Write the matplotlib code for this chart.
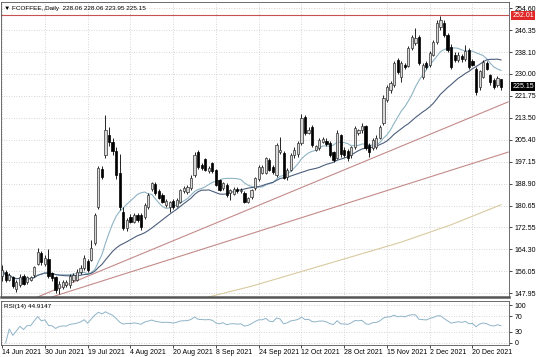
import numpy as np
import pandas as pd
import matplotlib
matplotlib.use('Agg')
import matplotlib.pyplot as plt
import matplotlib.transforms as mtrans

plt.rcParams['font.family'] = ['Liberation Sans', 'DejaVu Sans']

# daily candles, bar 0 = 14 Jun 2021
opens = [154.5, 155.8, 153.0, 154.0, 149.5, 151.0, 154.5, 152.0, 153.0, 154.6,
         159.0, 162.8, 158.8, 160.5, 155.4, 154.0, 150.0, 150.2, 151.0, 150.8,
         152.8, 153.0, 155.8, 157.2, 159.8, 160.3, 166.8, 180.0, 194.5, 199.6,
         207.0, 204.5, 201.0, 193.0, 178.3, 172.3, 176.5, 174.5, 177.2, 177.2,
         176.5, 180.0, 187.0, 188.7, 186.0, 184.5, 181.0, 180.3, 182.3, 180.5,
         182.0, 186.0, 185.8, 187.2, 192.0, 200.7, 195.8, 198.0, 193.5, 196.5,
         194.0, 190.2, 187.2, 188.4, 185.5, 185.0, 187.0, 186.0, 185.4, 182.2,
         184.0, 187.2, 190.5, 192.8, 193.0, 197.7, 195.0, 192.0, 200.6, 200.3,
         191.4, 194.0, 199.5, 200.0, 204.0, 213.8, 208.0, 210.0, 201.5, 202.2,
         204.5, 205.0, 204.2, 200.7, 198.5, 207.0, 201.5, 201.0, 199.5, 202.6,
         208.0, 208.9, 210.5, 203.3, 202.2, 202.6, 206.0, 211.5, 220.2, 224.0,
         225.8, 235.1, 229.0, 233.3, 233.0, 239.6, 241.5, 243.7, 228.8, 234.0,
         233.3, 237.0, 241.9, 247.5, 249.0, 244.5, 240.0, 237.0, 235.1, 236.5,
         235.5, 238.9, 235.0, 232.0, 225.0, 229.0, 234.2, 229.5, 227.7, 225.8,
         228.06]
highs = [158.5, 156.5, 155.5, 154.5, 152.8, 155.0, 155.2, 154.5, 154.5, 158.0,
         164.8, 163.5, 162.0, 164.5, 156.0, 154.5, 152.5, 153.0, 153.0, 155.0,
         155.5, 156.8, 158.5, 162.0, 160.5, 167.8, 178.0, 195.5, 195.5, 214.5,
         210.0, 206.0, 202.5, 200.0, 180.0, 176.0, 177.5, 178.0, 178.0, 178.0,
         181.5, 185.5, 189.5, 189.5, 187.0, 185.5, 183.0, 182.5, 183.0, 183.5,
         187.0, 188.0, 188.5, 192.0, 200.7, 201.5, 196.5, 198.5, 195.5, 197.0,
         194.5, 190.8, 189.5, 189.0, 187.0, 187.5, 187.8, 187.3, 186.0, 184.0,
         187.0, 191.5, 195.8, 196.0, 199.0, 198.5, 195.8, 204.0, 206.5, 201.0,
         194.8, 200.3, 202.5, 204.8, 214.8, 214.5, 210.0, 211.0, 203.5, 206.0,
         206.5, 206.0, 204.8, 201.2, 209.0, 207.5, 202.5, 201.8, 203.0, 210.5,
         209.5, 211.5, 211.0, 204.0, 206.0, 207.0, 211.0, 222.0, 226.0, 227.5,
         234.8, 236.0, 234.8, 234.2, 240.4, 244.5, 247.2, 244.5, 234.0, 235.0,
         238.5, 242.6, 250.0, 251.8, 250.0, 245.2, 241.0, 238.0, 238.0, 237.5,
         240.8, 239.5, 235.5, 232.5, 231.5, 235.2, 234.8, 230.0, 228.3, 229.3,
         228.06]
lows = [152.5, 152.0, 152.5, 149.8, 148.2, 150.2, 150.8, 151.5, 152.5, 154.0,
        158.5, 158.5, 158.0, 153.5, 152.5, 148.0, 147.6, 149.5, 150.2, 150.0,
        152.0, 152.5, 155.0, 156.5, 155.8, 159.8, 166.0, 179.5, 190.5, 198.5,
        203.0, 199.5, 190.5, 179.0, 171.5, 171.0, 174.0, 174.0, 174.5, 171.5,
        175.5, 179.5, 186.0, 184.5, 183.0, 181.5, 180.0, 178.3, 179.5, 180.0,
        181.5, 185.5, 185.0, 186.5, 191.5, 194.5, 194.0, 193.5, 193.0, 193.0,
        188.0, 186.0, 186.5, 184.0, 182.7, 184.5, 185.5, 185.5, 181.5, 181.7,
        183.0, 186.5, 190.0, 192.5, 192.5, 193.5, 192.5, 191.5, 200.0, 190.5,
        190.2, 193.5, 198.5, 199.0, 203.5, 207.0, 207.5, 202.8, 201.0, 201.5,
        204.0, 203.0, 199.0, 197.0, 198.0, 199.0, 199.0, 197.5, 198.5, 202.0,
        207.0, 208.0, 201.5, 198.9, 201.5, 202.0, 205.5, 211.0, 219.5, 223.0,
        225.0, 230.0, 227.0, 231.8, 232.5, 239.0, 240.8, 233.5, 228.0, 231.8,
        232.5, 236.5, 241.2, 246.5, 243.8, 238.2, 232.0, 234.5, 234.5, 234.5,
        235.0, 232.0, 232.8, 222.2, 224.0, 228.5, 231.5, 226.0, 224.3, 225.2,
        223.95]
closes = [156.5, 152.8, 154.8, 150.5, 152.0, 154.0, 151.5, 153.8, 153.8, 157.6,
          163.3, 159.5, 161.0, 154.2, 153.5, 149.0, 151.5, 152.2, 152.0, 154.2,
          154.8, 155.8, 157.5, 161.0, 156.5, 164.8, 177.0, 194.7, 191.4, 209.0,
          204.5, 201.0, 192.0, 180.0, 172.3, 175.3, 174.5, 177.2, 175.3, 172.5,
          181.0, 184.6, 189.0, 185.3, 183.5, 182.0, 182.5, 182.0, 180.3, 182.7,
          186.5, 187.2, 187.5, 191.0, 199.6, 195.0, 194.6, 194.0, 194.8, 193.5,
          188.4, 186.5, 189.0, 184.6, 186.5, 186.8, 186.0, 186.6, 182.2, 183.5,
          186.5, 190.9, 195.0, 195.0, 198.5, 194.0, 193.2, 203.3, 201.5, 191.0,
          194.0, 199.6, 201.5, 204.0, 213.4, 207.8, 209.0, 203.3, 203.0, 205.2,
          205.5, 203.6, 199.6, 197.7, 208.0, 200.0, 199.6, 198.5, 202.6, 209.7,
          209.0, 210.4, 202.2, 200.7, 205.2, 206.0, 210.2, 221.0, 225.0, 226.5,
          234.0, 230.6, 234.0, 232.5, 239.6, 243.7, 243.3, 234.0, 233.3, 232.5,
          237.8, 241.9, 249.0, 250.1, 244.5, 238.9, 232.5, 235.1, 237.0, 235.5,
          238.5, 232.5, 233.5, 223.2, 231.0, 234.4, 232.0, 226.9, 225.0, 228.5,
          225.15]

# long moving average (tan) at a few bars
tan_bars = [58, 70, 84, 98, 112, 126, 140]
tan_vals = [146.5, 150.5, 156.0, 161.5, 167.0, 173.5, 181.0]

# hand drawn trend lines (bar, price)
trend_up_bars = [10, 142]
trend_up_vals = [146.5, 219.5]
trend_lo_bars = [14, 142]
trend_lo_vals = [146.5, 200.7]

resist_level = 252.01
last_price = 225.15

price_ticks = [254.60, 246.35, 238.10, 230.00, 221.75, 213.50, 205.40, 197.15,
               188.90, 180.65, 172.55, 164.30, 156.05, 147.95]
date_bars = [0, 12, 24, 36, 48, 60, 72, 84, 96, 108, 120, 132]
date_labels = ['14 Jun 2021', '30 Jun 2021', '19 Jul 2021', '4 Aug 2021',
               '20 Aug 2021', '8 Sep 2021', '24 Sep 2021', '12 Oct 2021',
               '28 Oct 2021', '15 Nov 2021', '2 Dec 2021', '20 Dec 2021']

df = pd.DataFrame({'o': opens, 'h': highs, 'l': lows, 'c': closes})
x = np.arange(len(df))
fast = df['c'].rolling(14, min_periods=1).mean()
slow = df['c'].rolling(30, min_periods=1).mean()

# RSI(14), Wilder
d = df['c'].diff()
up = d.clip(lower=0).ewm(alpha=1/14, adjust=True).mean()
dn = (-d.clip(upper=0)).ewm(alpha=1/14, adjust=True).mean()
rsi = 100 - 100 / (1 + up / dn)

fig = plt.figure(figsize=(5.36, 3.57), dpi=100)
ax = fig.add_axes([0.002, 0.168, 0.948, 0.826])
ax2 = fig.add_axes([0.002, 0.034, 0.948, 0.124])

grid_kw = dict(color='#c8c8c8', linestyle=(0, (1, 2)), linewidth=0.6)

# candles
bull = df['c'] >= df['o']
ax.vlines(x, df['l'], df['h'], color='black', linewidth=0.6, zorder=3)
body_lo = np.minimum(df['o'], df['c'])
body_h = np.maximum((df['c'] - df['o']).abs(), 0.25)
ax.bar(x[bull], body_h[bull], bottom=body_lo[bull], width=0.62,
       color='#d8d8d8', edgecolor='#333333', linewidth=0.5, zorder=4)
ax.bar(x[~bull], body_h[~bull], bottom=body_lo[~bull], width=0.62,
       color='black', edgecolor='black', linewidth=0.5, zorder=4)

ax.plot(x, fast, color='#8fb4c4', linewidth=0.8, zorder=2)
ax.plot(x, slow, color='#4c5e7c', linewidth=0.8, zorder=2)
ax.plot(tan_bars, tan_vals, color='#d9caa0', linewidth=0.8, zorder=2)
ax.plot(trend_up_bars, trend_up_vals, color='#c48a8a', linewidth=0.8, zorder=2)
ax.plot(trend_lo_bars, trend_lo_vals, color='#c48a8a', linewidth=0.8, zorder=2)
ax.axhline(resist_level, color='#c85050', linewidth=0.8, zorder=2)

ax.set_xlim(-0.3, 142.3)
ax.set_ylim(146.45, 256.85)
ax.set_xticks(date_bars)
ax.set_xticklabels([])
ax.tick_params(axis='x', length=0)
ax.yaxis.tick_right()
ax.set_yticks(price_ticks)
ax.set_yticklabels(['%.2f' % v for v in price_ticks])
ax.tick_params(axis='y', labelsize=5, length=2, pad=2, width=0.5)
ax.grid(True, **grid_kw)
for s in ax.spines.values():
    s.set_color('#555555')
    s.set_linewidth(0.6)
ax.spines['bottom'].set_linewidth(1.8)

ax.text(0.006, 0.987, '\u25bc FCOFFEE,,Daily  228.06 228.06 223.95 225.15',
        transform=ax.transAxes, fontsize=4.6, va='top', ha='left')

tr = mtrans.blended_transform_factory(ax.transAxes, ax.transData)
ax.text(1.006, resist_level, '252.01', transform=tr, fontsize=5, color='white',
        va='center', ha='left',
        bbox=dict(boxstyle='square,pad=0.15', fc='#e02828', ec='none'))
ax.text(1.006, last_price, '225.15', transform=tr, fontsize=5, color='white',
        va='center', ha='left',
        bbox=dict(boxstyle='square,pad=0.15', fc='black', ec='none'))

# RSI panel
ax2.plot(x, rsi, color='#8fb4c8', linewidth=0.7)
ax2.set_xlim(-0.3, 142.3)
ax2.set_ylim(-5.4, 112)
ax2.yaxis.tick_right()
ax2.set_yticks([100, 70, 30, 0])
ax2.tick_params(axis='y', labelsize=5, length=2, pad=2, width=0.5)
ax2.set_xticks(date_bars)
ax2.set_xticklabels(date_labels, fontsize=5, ha='left')
ax2.tick_params(axis='x', length=2, pad=1, width=0.5)
ax2.grid(True, **grid_kw)
for s in ax2.spines.values():
    s.set_color('#555555')
    s.set_linewidth(0.6)
ax2.text(0.006, 0.93, 'RSI(14) 44.9147', transform=ax2.transAxes,
         fontsize=4.6, va='top', ha='left')

fig.savefig('out.png', dpi=100)
